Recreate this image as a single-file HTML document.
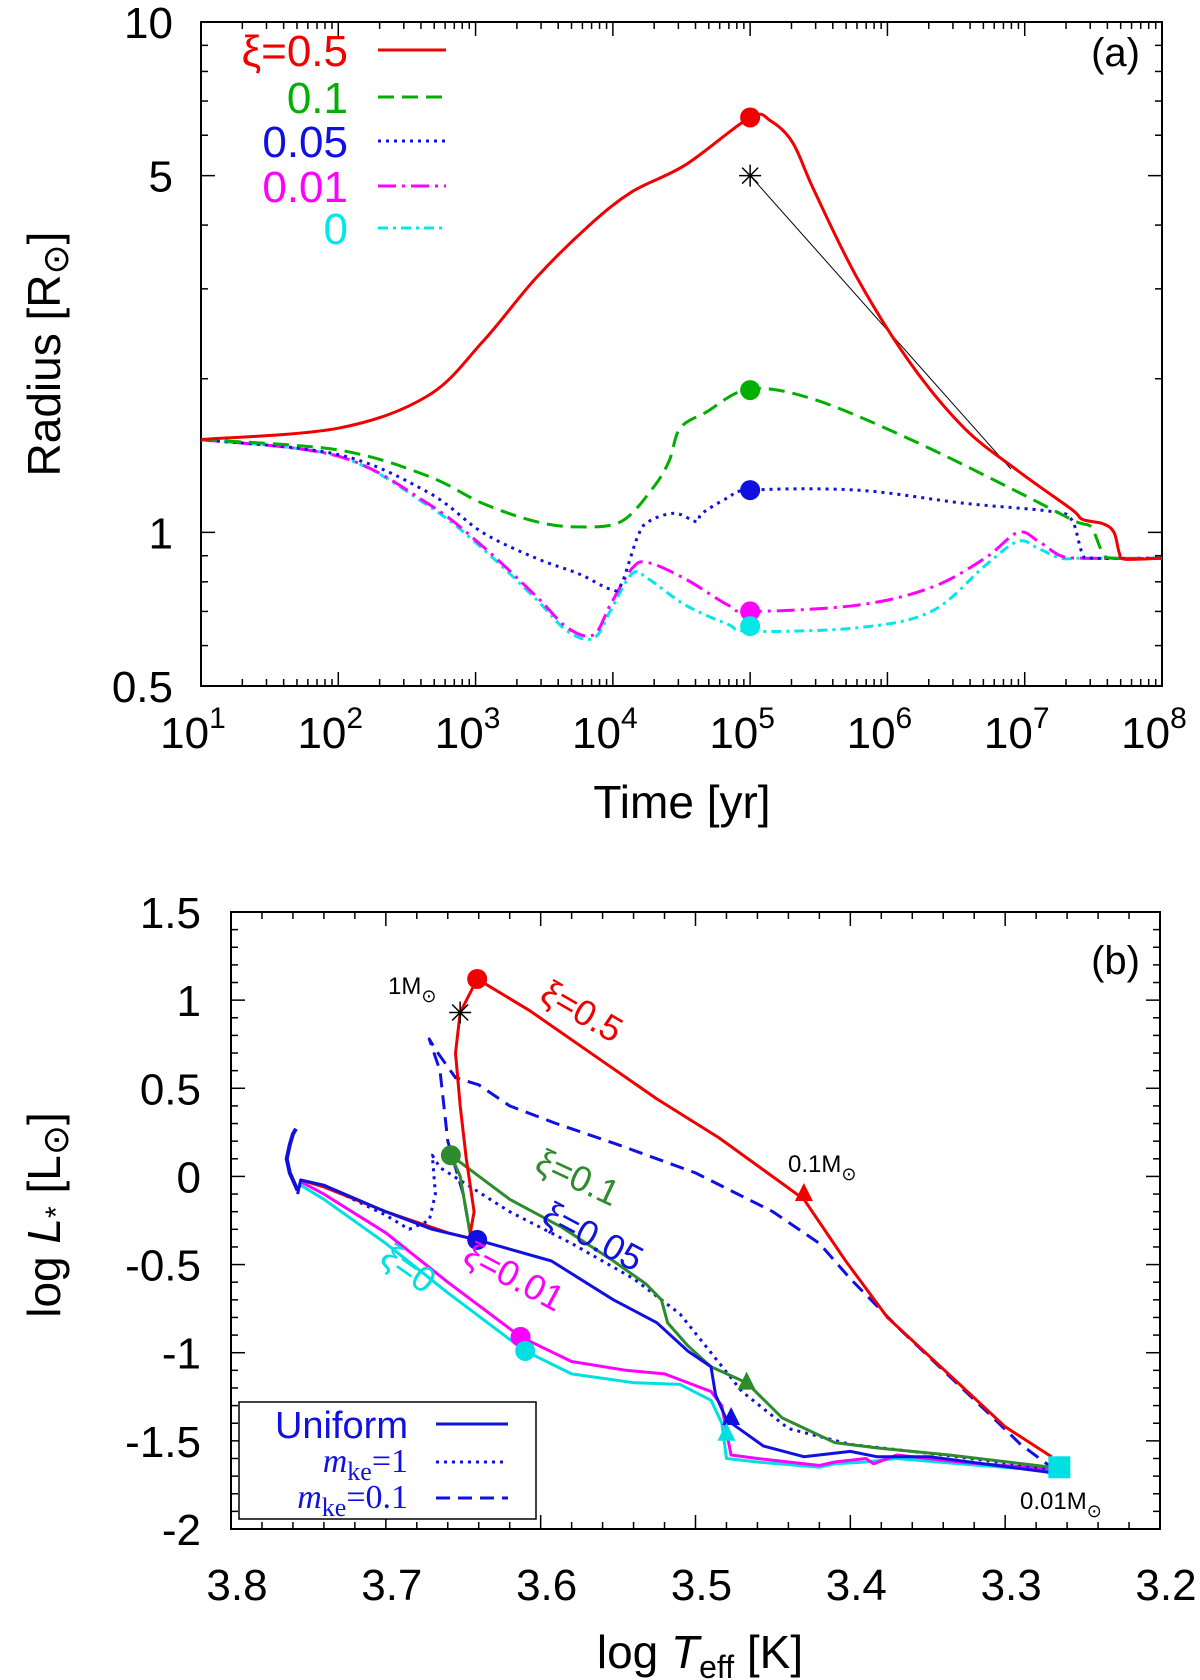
<!DOCTYPE html>
<html><head><meta charset="utf-8"><style>
body{margin:0;background:#fff}
svg{display:block;font-family:"Liberation Sans",sans-serif}
</style></head><body>
<svg id="fig" width="1200" height="1680" viewBox="0 0 1200 1680">
<g id="pa"></g>
<g id="pb"></g>
</svg>
<script>
// ---------- Panel (a) data: log10(t/yr), Radius [Rsun] ----------
const aRedT=[1,2,2.65,3.05,3.44,3.83,4.14,4.53,5,5.15,5.31,5.47,5.78,6.17,6.56,6.95,7.34,7.42,7.57,7.65,7.69,7.73,8];
const aRedR=[1.52,1.6,1.85,2.36,3.15,4.0,4.65,5.25,6.5,6.4,5.8,4.65,3.15,2.14,1.6,1.32,1.11,1.06,1.04,1.0,0.91,0.886,0.89];
const aGreenT=[1,2,2.65,3.05,3.44,3.75,4.06,4.29,4.41,4.49,4.68,5,5.47,6.17,6.95,7.34,7.42,7.49,7.57,7.65,8];
const aGreenR=[1.52,1.45,1.29,1.14,1.05,1.025,1.05,1.22,1.38,1.6,1.72,1.91,1.82,1.52,1.2,1.06,1.04,1.02,0.91,0.89,0.89];
const aBlueT=[1,2,2.65,3.05,3.44,3.75,3.98,4.06,4.18,4.26,4.45,4.61,4.65,4.84,5,5.78,6.56,7.18,7.34,7.42,7.5,8];
const aBlueR=[1.52,1.42,1.2,1.0,0.89,0.83,0.774,0.79,0.98,1.05,1.09,1.05,1.09,1.17,1.21,1.21,1.14,1.1,1.06,0.91,0.89,0.89];
const aMagT=[1,2,2.65,3.05,3.44,3.67,3.86,3.98,4.14,4.26,4.53,4.84,5,5.78,6.32,6.71,6.95,7.1,7.26,7.42,8];
const aMagR=[1.52,1.41,1.14,0.94,0.75,0.65,0.63,0.72,0.85,0.872,0.81,0.72,0.70,0.72,0.78,0.89,1.0,0.96,0.9,0.89,0.89];
const aCyanT=[1,2,2.65,3.05,3.44,3.67,3.86,3.98,4.14,4.26,4.53,4.84,5,5.78,6.32,6.71,6.95,7.1,7.26,7.42,8];
const aCyanR=[1.52,1.41,1.13,0.93,0.74,0.64,0.62,0.70,0.83,0.81,0.72,0.66,0.64,0.65,0.70,0.86,0.96,0.93,0.89,0.89,0.89];
const aMarkT=5;
const aMarkR=[6.5,1.9,1.21,0.70,0.655];
const aStarT=[5,6.9];
const aStarR=[5.0,1.33];
const aXTicks=[1,2,3,4,5,6,7,8];
const aYTicks=[0.5,1,5,10];
const aYTickLabels=["0.5","1","5","10"];
const aLegendLabels=["ξ=0.5","0.1","0.05","0.01","0"];

// ---------- Panel (b) data: log Teff, log L ----------
const bRedT=[3.755,3.74,3.70,3.66,3.646,3.643,3.648,3.652,3.655,3.652,3.641,3.607,3.566,3.525,3.485,3.444,3.43,3.403,3.376,3.349,3.322,3.30,3.27];
const bRedL=[-0.02,-0.06,-0.2,-0.32,-0.35,-0.2,0.1,0.4,0.7,0.93,1.12,0.94,0.69,0.44,0.22,-0.04,-0.13,-0.48,-0.80,-1.02,-1.24,-1.42,-1.59];
const bGreenT=[3.645,3.648,3.652,3.658,3.62,3.586,3.553,3.532,3.522,3.518,3.505,3.49,3.467,3.444,3.41,3.383,3.336,3.27];
const bGreenL=[-0.35,-0.2,0.0,0.12,-0.13,-0.29,-0.48,-0.61,-0.70,-0.83,-0.96,-1.08,-1.17,-1.37,-1.51,-1.54,-1.58,-1.65];
const bBlueT=[3.757,3.755,3.74,3.70,3.67,3.641,3.593,3.553,3.525,3.505,3.49,3.487,3.48,3.456,3.43,3.40,3.383,3.349,3.27];
const bBlueL=[-0.1,-0.02,-0.05,-0.2,-0.3,-0.36,-0.48,-0.70,-0.83,-0.99,-1.08,-1.24,-1.38,-1.53,-1.59,-1.56,-1.59,-1.59,-1.68];
const bMagT=[3.755,3.74,3.70,3.66,3.613,3.58,3.545,3.52,3.49,3.483,3.48,3.477,3.46,3.44,3.42,3.41,3.39,3.385,3.37,3.33,3.27];
const bMagL=[-0.03,-0.1,-0.32,-0.6,-0.91,-1.05,-1.10,-1.12,-1.22,-1.30,-1.45,-1.58,-1.60,-1.62,-1.64,-1.62,-1.60,-1.63,-1.58,-1.62,-1.66];
const bCyanT=[3.755,3.74,3.70,3.66,3.61,3.58,3.54,3.51,3.49,3.483,3.48,3.46,3.42,3.41,3.39,3.37,3.33,3.27];
const bCyanL=[-0.05,-0.13,-0.38,-0.66,-0.99,-1.12,-1.17,-1.18,-1.27,-1.40,-1.60,-1.62,-1.65,-1.63,-1.62,-1.60,-1.63,-1.67];
const bDotT=[3.74,3.70,3.685,3.672,3.668,3.67,3.665,3.62,3.58,3.54,3.51,3.49,3.47,3.44,3.40,3.34,3.27];
const bDotL=[-0.05,-0.22,-0.3,-0.25,-0.1,0.12,0.05,-0.2,-0.38,-0.58,-0.78,-1.0,-1.22,-1.43,-1.52,-1.58,-1.66];
const bDashT=[3.645,3.65,3.66,3.665,3.672,3.668,3.655,3.64,3.62,3.59,3.55,3.50,3.45,3.42,3.40,3.37,3.34,3.31,3.29,3.27];
const bDashL=[-0.35,-0.1,0.2,0.6,0.78,0.72,0.56,0.52,0.4,0.3,0.18,0.02,-0.2,-0.38,-0.58,-0.85,-1.1,-1.35,-1.52,-1.65];
const bSquigT=[3.757,3.762,3.764,3.762,3.760,3.758];
const bSquigL=[-0.08,0.02,0.1,0.18,0.24,0.27];
const bCircT=[3.641,3.658,3.641,3.613,3.61];
const bCircL=[1.12,0.12,-0.36,-0.91,-0.99];
const bTriT=[3.43,3.467,3.477,3.48];
const bTriL=[-0.1,-1.17,-1.37,-1.46];
const bStar=[3.652,0.93];
const bSquare=[3.265,-1.65];
const bXTicks=[3.8,3.7,3.6,3.5,3.4,3.3,3.2];
const bYTicks=[1.5,1,0.5,0,-0.5,-1,-1.5,-2];
const bYTickLabels=["1.5","1","0.5","0","-0.5","-1","-1.5","-2"];

const NS="http://www.w3.org/2000/svg";
function mk(parent,tag,attrs,text){const e=document.createElementNS(NS,tag);for(const k in attrs)e.setAttribute(k,attrs[k]);if(text!==undefined)e.textContent=text;parent.appendChild(e);return e;}
function smooth(P){let d='M'+P[0][0].toFixed(1)+','+P[0][1].toFixed(1);
 for(let i=0;i<P.length-1;i++){const p0=P[i-1]||P[i],p1=P[i],p2=P[i+1],p3=P[i+2]||p2;
  const c1=[p1[0]+(p2[0]-p0[0])/6,p1[1]+(p2[1]-p0[1])/6],c2=[p2[0]-(p3[0]-p1[0])/6,p2[1]-(p3[1]-p1[1])/6];
  d+=`C${c1[0].toFixed(1)},${c1[1].toFixed(1)} ${c2[0].toFixed(1)},${c2[1].toFixed(1)} ${p2[0].toFixed(1)},${p2[1].toFixed(1)}`;}
 return d;}

// ---------- Panel (a) axes ----------
const A={x0:201,x1:1162,y0:22,y1:686};
const ax=lt=>A.x0+(lt-1)/7*(A.x1-A.x0);
const ay=r=>A.y0+(1-Math.log10(r))/(1-Math.log10(0.5))*(A.y1-A.y0);
const pa=document.getElementById('pa');
let fr=mk(pa,'rect',{x:A.x0,y:A.y0,width:A.x1-A.x0,height:A.y1-A.y0,fill:'none',stroke:'#000','stroke-width':2});


for(let d=1;d<8;d++){for(let m=1;m<10;m++){const x=ax(d+Math.log10(m));const L=m===1?14:7;
 mk(pa,'line',{x1:x,y1:A.y1,x2:x,y2:A.y1-L,stroke:'#000','stroke-width':1.5});
 mk(pa,'line',{x1:x,y1:A.y0,x2:x,y2:A.y0+L,stroke:'#000','stroke-width':1.5});}}
[0.6,0.7,0.8,0.9,2,3,4,6,7,8,9].forEach(v=>{const y=ay(v);
 mk(pa,'line',{x1:A.x0,y1:y,x2:A.x0+7,y2:y,stroke:'#000','stroke-width':1.5});
 mk(pa,'line',{x1:A.x1,y1:y,x2:A.x1-7,y2:y,stroke:'#000','stroke-width':1.5});});
aYTicks.forEach((v,i)=>{const y=ay(v);
 mk(pa,'line',{x1:A.x0,y1:y,x2:A.x0+14,y2:y,stroke:'#000','stroke-width':1.5});
 mk(pa,'line',{x1:A.x1,y1:y,x2:A.x1-14,y2:y,stroke:'#000','stroke-width':1.5});
 const t=mk(pa,'text',{x:A.x0-28,y:y+16,'font-size':44,'text-anchor':'end'},aYTickLabels[i]);
 
 });
aXTicks.forEach(d=>{const t=mk(pa,'text',{x:ax(d)-8,y:748,'font-size':44,'text-anchor':'middle'},'10');
 
 
 mk(t,'tspan',{dy:-20,'font-size':30},String(d));});
let tt=mk(pa,'text',{x:682,y:818,'font-size':46,'text-anchor':'middle'},'Time [yr]');


tt=mk(pa,'text',{x:0,y:0,'font-size':46,'text-anchor':'middle',transform:'translate(60,354) rotate(-90)'},'Radius [R');


mk(tt,'tspan',{'font-size':36,dy:8},'⊙');mk(tt,'tspan',{dy:-8},']');
tt=mk(pa,'text',{x:1140,y:66,'font-size':40,'text-anchor':'end'},'(a)');



function lineA(T,R,color,dash,name,w){const d=smooth(T.map((t,i)=>[ax(t),ay(R[i])]));
 const p=mk(pa,'path',{d:d,fill:'none',stroke:color,'stroke-width':w||3,'stroke-dasharray':dash,'stroke-linejoin':'round'});
 
 }
const aCols=['#f00000','#00b000','#1010e0','#ff00ff','#00e8e8'];
const aDash=['none','16,8','3,5','18,6,3,6','10,5,3,5'];
lineA(aStarT,aStarR,'#000','none','star-connector-line',1);
lineA(aCyanT,aCyanR,aCols[4],aDash[4],'series-xi-0');
lineA(aMagT,aMagR,aCols[3],aDash[3],'series-xi-0.01');
lineA(aBlueT,aBlueR,aCols[2],aDash[2],'series-xi-0.05');
lineA(aGreenT,aGreenR,aCols[1],aDash[1],'series-xi-0.1');
lineA(aRedT,aRedR,aCols[0],aDash[0],'series-xi-0.5');
aMarkR.forEach((r,i)=>{const c=mk(pa,'circle',{cx:ax(aMarkT),cy:ay(r),r:10,fill:aCols[i]});
 
 });
{const sx=ax(aStarT[0]),sy=ay(aStarR[0]);const g=mk(pa,'g',{stroke:'#000','stroke-width':1.5});
 
 
 [[-11,0,11,0],[0,-11,0,11],[-8,-8,8,8],[-8,8,8,-8]].forEach(s=>mk(g,'line',{x1:sx+s[0],y1:sy+s[1],x2:sx+s[2],y2:sy+s[3]}));}
const legY=[50,97,141,186,228];
aLegendLabels.forEach((lab,i)=>{const t=mk(pa,'text',{x:348,y:legY[i]+16,'font-size':44,'text-anchor':'end',fill:aCols[i]},lab);
 
 
 const l=mk(pa,'line',{x1:378,y1:legY[i],x2:446,y2:legY[i],stroke:aCols[i],'stroke-width':3,'stroke-dasharray':aDash[i]});
 
 });

// ---------- Panel (b) axes ----------
const B={x0:231,x1:1160,y0:912,y1:1529};
const bx=t=>B.x0+(3.8-t)/0.6*(B.x1-B.x0);
const by=l=>B.y0+(1.5-l)/3.5*(B.y1-B.y0);
const pb=document.getElementById('pb');
fr=mk(pb,'rect',{x:B.x0,y:B.y0,width:B.x1-B.x0,height:B.y1-B.y0,fill:'none',stroke:'#000','stroke-width':2});


for(let k=0;k<=30;k++){const x=B.x0+k/30*(B.x1-B.x0);const L=k%5===0?14:7;
 mk(pb,'line',{x1:x,y1:B.y1,x2:x,y2:B.y1-L,stroke:'#000','stroke-width':1.5});
 mk(pb,'line',{x1:x,y1:B.y0,x2:x,y2:B.y0+L,stroke:'#000','stroke-width':1.5});}
for(let k=0;k<=35;k++){const y=B.y0+k/35*(B.y1-B.y0);const L=k%5===0?14:7;
 mk(pb,'line',{x1:B.x0,y1:y,x2:B.x0+L,y2:y,stroke:'#000','stroke-width':1.5});
 mk(pb,'line',{x1:B.x1,y1:y,x2:B.x1-L,y2:y,stroke:'#000','stroke-width':1.5});}
bYTicks.forEach((v,i)=>{const t=mk(pb,'text',{x:B.x0-30,y:by(v)+16,'font-size':44,'text-anchor':'end'},bYTickLabels[i]);
 
 });
bXTicks.forEach(v=>{const t=mk(pb,'text',{x:bx(v)+6,y:1600,'font-size':44,'text-anchor':'middle'},v.toFixed(1));
 
 });
tt=mk(pb,'text',{x:700,y:1668,'font-size':46,'text-anchor':'middle'},'log ');


mk(tt,'tspan',{'font-style':'italic'},'T');mk(tt,'tspan',{'font-size':32,dy:10},'eff');mk(tt,'tspan',{dy:-10},' [K]');
tt=mk(pb,'text',{x:0,y:0,'font-size':46,'text-anchor':'middle',transform:'translate(60,1215) rotate(-90)'},'log ');


mk(tt,'tspan',{'font-style':'italic'},'L');mk(tt,'tspan',{'font-size':30,dy:6},'*');mk(tt,'tspan',{dy:-6},' [L');mk(tt,'tspan',{'font-size':36,dy:8},'⊙');mk(tt,'tspan',{dy:-8},']');
tt=mk(pb,'text',{x:1140,y:974,'font-size':40,'text-anchor':'end'},'(b)');



function lineB(T,Lv,color,dash,name,w){const d=T.map((t,i)=>(i?'L':'M')+bx(t).toFixed(1)+','+by(Lv[i]).toFixed(1)).join('');
 const p=mk(pb,'path',{d:d,fill:'none',stroke:color,'stroke-width':w||3,'stroke-dasharray':dash,'stroke-linejoin':'round'});
 
 }
const bCols=['#f00000','#2e8b2e','#1010e0','#ff00ff','#00e0e0'];
lineB(bSquigT,bSquigL,'#1010e0','none','blue-start-squiggle',4);
lineB(bCyanT,bCyanL,bCols[4],'none','track-xi-0');
lineB(bMagT,bMagL,bCols[3],'none','track-xi-0.01');
lineB(bDashT,bDashL,'#1010e0','14,8','track-mke-0.1');
lineB(bDotT,bDotL,'#1010e0','3,5','track-mke-1');
lineB(bGreenT,bGreenL,bCols[1],'none','track-xi-0.1');
lineB(bRedT,bRedL,bCols[0],'none','track-xi-0.5');
lineB(bBlueT,bBlueL,bCols[2],'none','track-xi-0.05');
const circCols=[bCols[0],bCols[1],bCols[2],bCols[3],bCols[4]];
bCircT.forEach((t,i)=>{const c=mk(pb,'circle',{cx:bx(t),cy:by(bCircL[i]),r:10,fill:circCols[i]});
 
 });
const triCols=[bCols[0],bCols[1],bCols[2],bCols[4]];
bTriT.forEach((t,i)=>{const x=bx(t),y=by(bTriL[i]);const p=mk(pb,'polygon',{points:`${x},${y-11} ${x-9},${y+7} ${x+9},${y+7}`,fill:triCols[i]});
 
 });
{const x=bx(bSquare[0]),y=by(bSquare[1]);const s=mk(pb,'rect',{x:x-11,y:y-11,width:22,height:22,fill:'#00e0e0'});
 
 }
{const sx=bx(bStar[0]),sy=by(bStar[1]);const g=mk(pb,'g',{stroke:'#000','stroke-width':1.5});
 
 
 [[-11,0,11,0],[0,-11,0,11],[-8,-8,8,8],[-8,8,8,-8]].forEach(s=>mk(g,'line',{x1:sx+s[0],y1:sy+s[1],x2:sx+s[2],y2:sy+s[3]}));}
function lab(x,y,rot,color,txt,name,size){const t=mk(pb,'text',{x:0,y:0,'font-size':size||30,fill:color,transform:`translate(${x},${y}) rotate(${rot})`},'');
 
 
 t.textContent=txt;return t;}
lab(538,1000,30,'#f00000','ξ=0.5','label-xi-0.5',36);
lab(533,1170,25,'#2e8b2e','ξ=0.1','label-xi-0.1',36);
lab(540,1222,28,'#1010e0','ξ=0.05','label-xi-0.05',36);
lab(461,1262,28,'#ff00ff','ξ=0.01','label-xi-0.01',36);
lab(378,1262,35,'#00e0e0','ξ=0','label-xi-0',36);
let m=lab(388,994,0,'#000','1M','label-1msun',24);mk(m,'tspan',{'font-size':18,dy:8},'⊙');
m=lab(788,1172,0,'#000','0.1M','label-0.1msun',24);mk(m,'tspan',{'font-size':18,dy:8},'⊙');
m=lab(1020,1509,0,'#000','0.01M','label-0.01msun',24);mk(m,'tspan',{'font-size':18,dy:8},'⊙');
// legend b
const lg=mk(pb,'g',{});


mk(lg,'rect',{x:239,y:1402,width:297,height:117,fill:'#fff',stroke:'#000','stroke-width':1.5});
const lgY=[1424,1462,1498];const lgDash=['none','3,5','14,8'];
const l1=mk(lg,'text',{x:408,y:lgY[0]+14,'font-size':38,fill:'#1010e0','text-anchor':'end'},'Uniform');


[['1',1],['0.1',2]].forEach(([v,i])=>{const t=mk(lg,'text',{x:408,y:lgY[i]+10,'font-size':34,fill:'#1010e0','text-anchor':'end','font-family':'Liberation Serif, serif'},'');
 
 
 mk(t,'tspan',{'font-style':'italic'},'m');mk(t,'tspan',{'font-size':26,dy:8},'ke');mk(t,'tspan',{dy:-8},'='+v);});
lgY.forEach((y,i)=>{const l=mk(lg,'line',{x1:436,y1:y,x2:508,y2:y,stroke:'#1010e0','stroke-width':3,'stroke-dasharray':lgDash[i]});
 
 });
</script>
</body></html>
